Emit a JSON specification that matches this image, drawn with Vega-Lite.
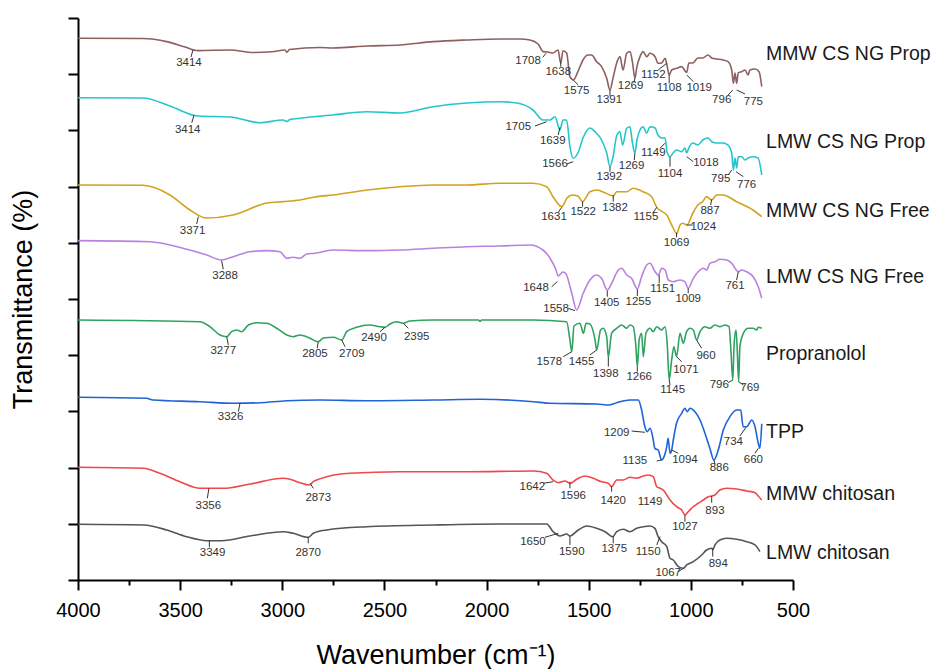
{
"$schema": "https://vega.github.io/schema/vega-lite/v6.json",
"width": 715, "height": 562,
"autosize": "none",
"padding": {"left": 78, "top": 18, "right": 139, "bottom": 89},
"background": "white",
"config": {"view": {"stroke": null}, "font": "Liberation Sans"},
"datasets": {
"spectra": [
{"s":"MMW CS NG Prop","w":4000,"t":96.4},{"s":"MMW CS NG Prop","w":3682,"t":96.35},{"s":"MMW CS NG Prop","w":3566,"t":95.8},{"s":"MMW CS NG Prop","w":3476,"t":94.84},{"s":"MMW CS NG Prop","w":3414,"t":94.2},{"s":"MMW CS NG Prop","w":3256,"t":94.3},{"s":"MMW CS NG Prop","w":3143,"t":93.86},{"s":"MMW CS NG Prop","w":3050,"t":94.0},{"s":"MMW CS NG Prop","w":2987,"t":94.3},{"s":"MMW CS NG Prop","w":2977,"t":93.9},{"s":"MMW CS NG Prop","w":2965,"t":94.4},{"s":"MMW CS NG Prop","w":2815,"t":94.75},{"s":"MMW CS NG Prop","w":2752,"t":94.66},{"s":"MMW CS NG Prop","w":2585,"t":95.02},{"s":"MMW CS NG Prop","w":2424,"t":95.2},{"s":"MMW CS NG Prop","w":2262,"t":95.79},{"s":"MMW CS NG Prop","w":2096,"t":96.09},{"s":"MMW CS NG Prop","w":1934,"t":96.27},{"s":"MMW CS NG Prop","w":1836,"t":96.27},{"s":"MMW CS NG Prop","w":1788,"t":96.09},{"s":"MMW CS NG Prop","w":1748,"t":95.38},{"s":"MMW CS NG Prop","w":1722,"t":94.01},{"s":"MMW CS NG Prop","w":1700,"t":93.95},{"s":"MMW CS NG Prop","w":1675,"t":93.77},{"s":"MMW CS NG Prop","w":1650,"t":94.31},{"s":"MMW CS NG Prop","w":1637,"t":91.94},{"s":"MMW CS NG Prop","w":1626,"t":94.18},{"s":"MMW CS NG Prop","w":1608,"t":93.77},{"s":"MMW CS NG Prop","w":1592,"t":89.56},{"s":"MMW CS NG Prop","w":1575,"t":88.97},{"s":"MMW CS NG Prop","w":1553,"t":90.45},{"s":"MMW CS NG Prop","w":1528,"t":92.53},{"s":"MMW CS NG Prop","w":1504,"t":93.42},{"s":"MMW CS NG Prop","w":1486,"t":93.42},{"s":"MMW CS NG Prop","w":1461,"t":92.23},{"s":"MMW CS NG Prop","w":1437,"t":91.34},{"s":"MMW CS NG Prop","w":1412,"t":89.27},{"s":"MMW CS NG Prop","w":1396,"t":87.19},{"s":"MMW CS NG Prop","w":1381,"t":89.33},{"s":"MMW CS NG Prop","w":1363,"t":92.0},{"s":"MMW CS NG Prop","w":1347,"t":93.12},{"s":"MMW CS NG Prop","w":1332,"t":90.75},{"s":"MMW CS NG Prop","w":1314,"t":93.72},{"s":"MMW CS NG Prop","w":1298,"t":94.01},{"s":"MMW CS NG Prop","w":1285,"t":91.94},{"s":"MMW CS NG Prop","w":1274,"t":89.27},{"s":"MMW CS NG Prop","w":1264,"t":91.34},{"s":"MMW CS NG Prop","w":1249,"t":93.12},{"s":"MMW CS NG Prop","w":1234,"t":94.01},{"s":"MMW CS NG Prop","w":1216,"t":93.12},{"s":"MMW CS NG Prop","w":1200,"t":93.72},{"s":"MMW CS NG Prop","w":1175,"t":93.12},{"s":"MMW CS NG Prop","w":1161,"t":91.94},{"s":"MMW CS NG Prop","w":1143,"t":92.0},{"s":"MMW CS NG Prop","w":1126,"t":92.83},{"s":"MMW CS NG Prop","w":1117,"t":91.64},{"s":"MMW CS NG Prop","w":1106,"t":89.86},{"s":"MMW CS NG Prop","w":1094,"t":90.75},{"s":"MMW CS NG Prop","w":1070,"t":91.05},{"s":"MMW CS NG Prop","w":1045,"t":91.34},{"s":"MMW CS NG Prop","w":1029,"t":90.6},{"s":"MMW CS NG Prop","w":1020,"t":90.3},{"s":"MMW CS NG Prop","w":1010,"t":92.0},{"s":"MMW CS NG Prop","w":990,"t":92.0},{"s":"MMW CS NG Prop","w":966,"t":92.88},{"s":"MMW CS NG Prop","w":942,"t":92.88},{"s":"MMW CS NG Prop","w":916,"t":93.42},{"s":"MMW CS NG Prop","w":898,"t":92.88},{"s":"MMW CS NG Prop","w":874,"t":92.71},{"s":"MMW CS NG Prop","w":843,"t":92.53},{"s":"MMW CS NG Prop","w":818,"t":92.23},{"s":"MMW CS NG Prop","w":800,"t":90.75},{"s":"MMW CS NG Prop","w":792,"t":88.38},{"s":"MMW CS NG Prop","w":784,"t":90.22},{"s":"MMW CS NG Prop","w":776,"t":88.38},{"s":"MMW CS NG Prop","w":768,"t":90.22},{"s":"MMW CS NG Prop","w":751,"t":90.45},{"s":"MMW CS NG Prop","w":735,"t":90.75},{"s":"MMW CS NG Prop","w":720,"t":89.86},{"s":"MMW CS NG Prop","w":711,"t":90.75},{"s":"MMW CS NG Prop","w":686,"t":90.93},{"s":"MMW CS NG Prop","w":666,"t":90.45},{"s":"MMW CS NG Prop","w":653,"t":87.78},
{"s":"LMW CS NG Prop","w":4000,"t":85.82},{"s":"LMW CS NG Prop","w":3682,"t":85.77},{"s":"LMW CS NG Prop","w":3550,"t":84.34},{"s":"LMW CS NG Prop","w":3414,"t":82.56},{"s":"LMW CS NG Prop","w":3256,"t":82.39},{"s":"LMW CS NG Prop","w":3109,"t":81.37},{"s":"LMW CS NG Prop","w":2997,"t":81.85},{"s":"LMW CS NG Prop","w":2977,"t":81.59},{"s":"LMW CS NG Prop","w":2962,"t":81.94},{"s":"LMW CS NG Prop","w":2913,"t":82.16},{"s":"LMW CS NG Prop","w":2752,"t":82.75},{"s":"LMW CS NG Prop","w":2585,"t":83.33},{"s":"LMW CS NG Prop","w":2424,"t":83.1},{"s":"LMW CS NG Prop","w":2262,"t":84.22},{"s":"LMW CS NG Prop","w":2096,"t":84.88},{"s":"LMW CS NG Prop","w":1934,"t":85.11},{"s":"LMW CS NG Prop","w":1851,"t":84.88},{"s":"LMW CS NG Prop","w":1773,"t":83.63},{"s":"LMW CS NG Prop","w":1724,"t":81.85},{"s":"LMW CS NG Prop","w":1690,"t":81.85},{"s":"LMW CS NG Prop","w":1665,"t":82.44},{"s":"LMW CS NG Prop","w":1641,"t":80.07},{"s":"LMW CS NG Prop","w":1626,"t":81.85},{"s":"LMW CS NG Prop","w":1608,"t":81.85},{"s":"LMW CS NG Prop","w":1592,"t":77.1},{"s":"LMW CS NG Prop","w":1576,"t":75.04},{"s":"LMW CS NG Prop","w":1553,"t":75.98},{"s":"LMW CS NG Prop","w":1528,"t":78.65},{"s":"LMW CS NG Prop","w":1494,"t":80.43},{"s":"LMW CS NG Prop","w":1469,"t":79.77},{"s":"LMW CS NG Prop","w":1437,"t":78.29},{"s":"LMW CS NG Prop","w":1412,"t":75.98},{"s":"LMW CS NG Prop","w":1396,"t":73.54},{"s":"LMW CS NG Prop","w":1381,"t":75.32},{"s":"LMW CS NG Prop","w":1362,"t":79.18},{"s":"LMW CS NG Prop","w":1347,"t":79.77},{"s":"LMW CS NG Prop","w":1334,"t":77.4},{"s":"LMW CS NG Prop","w":1314,"t":80.38},{"s":"LMW CS NG Prop","w":1298,"t":80.66},{"s":"LMW CS NG Prop","w":1288,"t":78.29},{"s":"LMW CS NG Prop","w":1274,"t":75.93},{"s":"LMW CS NG Prop","w":1264,"t":78.29},{"s":"LMW CS NG Prop","w":1249,"t":80.07},{"s":"LMW CS NG Prop","w":1234,"t":80.66},{"s":"LMW CS NG Prop","w":1216,"t":79.54},{"s":"LMW CS NG Prop","w":1200,"t":80.66},{"s":"LMW CS NG Prop","w":1175,"t":80.43},{"s":"LMW CS NG Prop","w":1161,"t":79.18},{"s":"LMW CS NG Prop","w":1143,"t":78.65},{"s":"LMW CS NG Prop","w":1126,"t":78.65},{"s":"LMW CS NG Prop","w":1117,"t":76.21},{"s":"LMW CS NG Prop","w":1102,"t":75.32},{"s":"LMW CS NG Prop","w":1087,"t":75.98},{"s":"LMW CS NG Prop","w":1070,"t":76.51},{"s":"LMW CS NG Prop","w":1045,"t":76.21},{"s":"LMW CS NG Prop","w":1029,"t":76.87},{"s":"LMW CS NG Prop","w":1020,"t":76.0},{"s":"LMW CS NG Prop","w":1010,"t":76.9},{"s":"LMW CS NG Prop","w":990,"t":77.76},{"s":"LMW CS NG Prop","w":966,"t":77.4},{"s":"LMW CS NG Prop","w":942,"t":78.29},{"s":"LMW CS NG Prop","w":916,"t":78.65},{"s":"LMW CS NG Prop","w":898,"t":77.99},{"s":"LMW CS NG Prop","w":874,"t":77.76},{"s":"LMW CS NG Prop","w":843,"t":77.76},{"s":"LMW CS NG Prop","w":818,"t":77.4},{"s":"LMW CS NG Prop","w":800,"t":75.98},{"s":"LMW CS NG Prop","w":792,"t":72.96},{"s":"LMW CS NG Prop","w":784,"t":75.09},{"s":"LMW CS NG Prop","w":776,"t":73.31},{"s":"LMW CS NG Prop","w":768,"t":75.32},{"s":"LMW CS NG Prop","w":751,"t":75.32},{"s":"LMW CS NG Prop","w":735,"t":74.73},{"s":"LMW CS NG Prop","w":720,"t":75.09},{"s":"LMW CS NG Prop","w":696,"t":75.32},{"s":"LMW CS NG Prop","w":671,"t":75.09},{"s":"LMW CS NG Prop","w":653,"t":72.07},
{"s":"MMW CS NG Free","w":4000,"t":70.29},{"s":"MMW CS NG Free","w":3682,"t":70.23},{"s":"MMW CS NG Free","w":3550,"t":68.51},{"s":"MMW CS NG Free","w":3452,"t":65.84},{"s":"MMW CS NG Free","w":3371,"t":64.41},{"s":"MMW CS NG Free","w":3241,"t":64.95},{"s":"MMW CS NG Free","w":3075,"t":67.08},{"s":"MMW CS NG Free","w":2997,"t":67.32},{"s":"MMW CS NG Free","w":2913,"t":67.62},{"s":"MMW CS NG Free","w":2830,"t":68.21},{"s":"MMW CS NG Free","w":2752,"t":68.51},{"s":"MMW CS NG Free","w":2585,"t":69.4},{"s":"MMW CS NG Free","w":2424,"t":69.98},{"s":"MMW CS NG Free","w":2262,"t":70.29},{"s":"MMW CS NG Free","w":2096,"t":70.29},{"s":"MMW CS NG Free","w":1934,"t":70.59},{"s":"MMW CS NG Free","w":1773,"t":70.59},{"s":"MMW CS NG Free","w":1706,"t":69.98},{"s":"MMW CS NG Free","w":1675,"t":68.21},{"s":"MMW CS NG Free","w":1632,"t":66.43},{"s":"MMW CS NG Free","w":1606,"t":67.97},{"s":"MMW CS NG Free","w":1582,"t":68.51},{"s":"MMW CS NG Free","w":1553,"t":68.33},{"s":"MMW CS NG Free","w":1530,"t":67.32},{"s":"MMW CS NG Free","w":1494,"t":69.09},{"s":"MMW CS NG Free","w":1460,"t":69.4},{"s":"MMW CS NG Free","w":1430,"t":69.04},{"s":"MMW CS NG Free","w":1396,"t":68.51},{"s":"MMW CS NG Free","w":1380,"t":68.33},{"s":"MMW CS NG Free","w":1363,"t":69.09},{"s":"MMW CS NG Free","w":1314,"t":69.09},{"s":"MMW CS NG Free","w":1283,"t":69.7},{"s":"MMW CS NG Free","w":1234,"t":69.09},{"s":"MMW CS NG Free","w":1192,"t":68.21},{"s":"MMW CS NG Free","w":1167,"t":66.3},{"s":"MMW CS NG Free","w":1143,"t":65.6},{"s":"MMW CS NG Free","w":1118,"t":64.95},{"s":"MMW CS NG Free","w":1094,"t":63.17},{"s":"MMW CS NG Free","w":1069,"t":61.69},{"s":"MMW CS NG Free","w":1053,"t":63.17},{"s":"MMW CS NG Free","w":1039,"t":63.47},{"s":"MMW CS NG Free","w":1020,"t":63.17},{"s":"MMW CS NG Free","w":990,"t":65.3},{"s":"MMW CS NG Free","w":966,"t":66.73},{"s":"MMW CS NG Free","w":942,"t":67.32},{"s":"MMW CS NG Free","w":923,"t":68.21},{"s":"MMW CS NG Free","w":898,"t":67.62},{"s":"MMW CS NG Free","w":874,"t":68.51},{"s":"MMW CS NG Free","w":843,"t":68.51},{"s":"MMW CS NG Free","w":776,"t":67.32},{"s":"MMW CS NG Free","w":696,"t":65.84},{"s":"MMW CS NG Free","w":653,"t":64.65},
{"s":"LMW CS NG Free","w":4000,"t":60.38},{"s":"LMW CS NG Free","w":3648,"t":60.2},{"s":"LMW CS NG Free","w":3486,"t":59.02},{"s":"LMW CS NG Free","w":3370,"t":57.83},{"s":"LMW CS NG Free","w":3297,"t":56.94},{"s":"LMW CS NG Free","w":3241,"t":57.53},{"s":"LMW CS NG Free","w":3158,"t":58.42},{"s":"LMW CS NG Free","w":3076,"t":58.6},{"s":"LMW CS NG Free","w":3011,"t":58.42},{"s":"LMW CS NG Free","w":2978,"t":57.24},{"s":"LMW CS NG Free","w":2948,"t":57.42},{"s":"LMW CS NG Free","w":2913,"t":57.24},{"s":"LMW CS NG Free","w":2881,"t":58.01},{"s":"LMW CS NG Free","w":2840,"t":58.13},{"s":"LMW CS NG Free","w":2752,"t":58.72},{"s":"LMW CS NG Free","w":2585,"t":58.6},{"s":"LMW CS NG Free","w":2424,"t":58.72},{"s":"LMW CS NG Free","w":2262,"t":59.02},{"s":"LMW CS NG Free","w":2096,"t":59.31},{"s":"LMW CS NG Free","w":1934,"t":59.43},{"s":"LMW CS NG Free","w":1788,"t":59.61},{"s":"LMW CS NG Free","w":1724,"t":58.72},{"s":"LMW CS NG Free","w":1690,"t":57.3},{"s":"LMW CS NG Free","w":1660,"t":55.16},{"s":"LMW CS NG Free","w":1650,"t":54.09},{"s":"LMW CS NG Free","w":1626,"t":54.81},{"s":"LMW CS NG Free","w":1611,"t":54.45},{"s":"LMW CS NG Free","w":1583,"t":51.02},{"s":"LMW CS NG Free","w":1559,"t":48.04},{"s":"LMW CS NG Free","w":1527,"t":51.02},{"s":"LMW CS NG Free","w":1494,"t":53.38},{"s":"LMW CS NG Free","w":1461,"t":54.27},{"s":"LMW CS NG Free","w":1437,"t":53.68},{"s":"LMW CS NG Free","w":1409,"t":51.6},{"s":"LMW CS NG Free","w":1388,"t":52.79},{"s":"LMW CS NG Free","w":1355,"t":55.16},{"s":"LMW CS NG Free","w":1339,"t":55.46},{"s":"LMW CS NG Free","w":1314,"t":54.27},{"s":"LMW CS NG Free","w":1290,"t":53.68},{"s":"LMW CS NG Free","w":1262,"t":51.78},{"s":"LMW CS NG Free","w":1241,"t":53.97},{"s":"LMW CS NG Free","w":1216,"t":56.05},{"s":"LMW CS NG Free","w":1200,"t":56.35},{"s":"LMW CS NG Free","w":1175,"t":54.86},{"s":"LMW CS NG Free","w":1159,"t":54.27},{"s":"LMW CS NG Free","w":1143,"t":55.46},{"s":"LMW CS NG Free","w":1126,"t":55.16},{"s":"LMW CS NG Free","w":1110,"t":53.38},{"s":"LMW CS NG Free","w":1086,"t":53.08},{"s":"LMW CS NG Free","w":1053,"t":53.38},{"s":"LMW CS NG Free","w":1029,"t":53.08},{"s":"LMW CS NG Free","w":1013,"t":51.91},{"s":"LMW CS NG Free","w":988,"t":53.68},{"s":"LMW CS NG Free","w":964,"t":54.86},{"s":"LMW CS NG Free","w":939,"t":55.46},{"s":"LMW CS NG Free","w":923,"t":55.16},{"s":"LMW CS NG Free","w":907,"t":56.35},{"s":"LMW CS NG Free","w":882,"t":56.64},{"s":"LMW CS NG Free","w":858,"t":57.07},{"s":"LMW CS NG Free","w":825,"t":56.94},{"s":"LMW CS NG Free","w":800,"t":56.35},{"s":"LMW CS NG Free","w":768,"t":54.86},{"s":"LMW CS NG Free","w":751,"t":55.16},{"s":"LMW CS NG Free","w":727,"t":54.86},{"s":"LMW CS NG Free","w":695,"t":53.97},{"s":"LMW CS NG Free","w":670,"t":52.19},{"s":"LMW CS NG Free","w":653,"t":50.13},
{"s":"Propranolol","w":4000,"t":46.26},{"s":"Propranolol","w":3403,"t":45.96},{"s":"Propranolol","w":3354,"t":45.07},{"s":"Propranolol","w":3305,"t":43.6},{"s":"Propranolol","w":3272,"t":43.29},{"s":"Propranolol","w":3248,"t":44.18},{"s":"Propranolol","w":3223,"t":44.49},{"s":"Propranolol","w":3199,"t":44.18},{"s":"Propranolol","w":3166,"t":45.37},{"s":"Propranolol","w":3125,"t":45.78},{"s":"Propranolol","w":3076,"t":45.68},{"s":"Propranolol","w":3027,"t":44.79},{"s":"Propranolol","w":2978,"t":43.6},{"s":"Propranolol","w":2946,"t":43.29},{"s":"Propranolol","w":2913,"t":43.6},{"s":"Propranolol","w":2881,"t":43.29},{"s":"Propranolol","w":2864,"t":43.01},{"s":"Propranolol","w":2824,"t":42.4},{"s":"Propranolol","w":2799,"t":43.06},{"s":"Propranolol","w":2750,"t":43.19},{"s":"Propranolol","w":2709,"t":42.71},{"s":"Propranolol","w":2685,"t":44.18},{"s":"Propranolol","w":2636,"t":44.97},{"s":"Propranolol","w":2571,"t":45.37},{"s":"Propranolol","w":2522,"t":45.07},{"s":"Propranolol","w":2497,"t":44.97},{"s":"Propranolol","w":2473,"t":45.55},{"s":"Propranolol","w":2440,"t":45.96},{"s":"Propranolol","w":2408,"t":45.68},{"s":"Propranolol","w":2375,"t":46.09},{"s":"Propranolol","w":2262,"t":46.26},{"s":"Propranolol","w":2040,"t":46.26},{"s":"Propranolol","w":2032,"t":46.0},{"s":"Propranolol","w":2024,"t":46.26},{"s":"Propranolol","w":1934,"t":46.26},{"s":"Propranolol","w":1773,"t":46.26},{"s":"Propranolol","w":1608,"t":45.96},{"s":"Propranolol","w":1592,"t":42.71},{"s":"Propranolol","w":1583,"t":40.62},{"s":"Propranolol","w":1572,"t":45.2},{"s":"Propranolol","w":1543,"t":45.68},{"s":"Propranolol","w":1526,"t":43.9},{"s":"Propranolol","w":1513,"t":45.68},{"s":"Propranolol","w":1494,"t":45.55},{"s":"Propranolol","w":1469,"t":42.71},{"s":"Propranolol","w":1461,"t":40.93},{"s":"Propranolol","w":1442,"t":44.49},{"s":"Propranolol","w":1429,"t":44.79},{"s":"Propranolol","w":1412,"t":43.29},{"s":"Propranolol","w":1404,"t":39.63},{"s":"Propranolol","w":1388,"t":43.9},{"s":"Propranolol","w":1363,"t":44.79},{"s":"Propranolol","w":1339,"t":45.37},{"s":"Propranolol","w":1314,"t":44.79},{"s":"Propranolol","w":1298,"t":45.37},{"s":"Propranolol","w":1282,"t":45.07},{"s":"Propranolol","w":1269,"t":41.51},{"s":"Propranolol","w":1262,"t":37.96},{"s":"Propranolol","w":1253,"t":42.71},{"s":"Propranolol","w":1241,"t":43.9},{"s":"Propranolol","w":1233,"t":39.73},{"s":"Propranolol","w":1220,"t":43.9},{"s":"Propranolol","w":1200,"t":44.79},{"s":"Propranolol","w":1184,"t":44.18},{"s":"Propranolol","w":1167,"t":45.07},{"s":"Propranolol","w":1143,"t":44.49},{"s":"Propranolol","w":1126,"t":45.07},{"s":"Propranolol","w":1116,"t":42.12},{"s":"Propranolol","w":1106,"t":35.59},{"s":"Propranolol","w":1094,"t":39.15},{"s":"Propranolol","w":1083,"t":41.51},{"s":"Propranolol","w":1070,"t":39.73},{"s":"Propranolol","w":1053,"t":43.9},{"s":"Propranolol","w":1037,"t":42.12},{"s":"Propranolol","w":1021,"t":44.18},{"s":"Propranolol","w":1004,"t":44.79},{"s":"Propranolol","w":988,"t":44.49},{"s":"Propranolol","w":972,"t":42.71},{"s":"Propranolol","w":955,"t":44.18},{"s":"Propranolol","w":931,"t":45.07},{"s":"Propranolol","w":907,"t":44.79},{"s":"Propranolol","w":882,"t":45.37},{"s":"Propranolol","w":858,"t":45.07},{"s":"Propranolol","w":833,"t":45.37},{"s":"Propranolol","w":813,"t":45.07},{"s":"Propranolol","w":804,"t":40.93},{"s":"Propranolol","w":795,"t":35.59},{"s":"Propranolol","w":788,"t":42.12},{"s":"Propranolol","w":779,"t":44.49},{"s":"Propranolol","w":773,"t":40.93},{"s":"Propranolol","w":766,"t":35.29},{"s":"Propranolol","w":760,"t":41.51},{"s":"Propranolol","w":743,"t":43.9},{"s":"Propranolol","w":719,"t":44.79},{"s":"Propranolol","w":695,"t":44.79},{"s":"Propranolol","w":678,"t":44.49},{"s":"Propranolol","w":670,"t":44.97},{"s":"Propranolol","w":653,"t":44.79},
{"s":"TPP","w":4000,"t":32.51},{"s":"TPP","w":3664,"t":32.33},{"s":"TPP","w":3633,"t":32.03},{"s":"TPP","w":3403,"t":31.73},{"s":"TPP","w":3241,"t":31.44},{"s":"TPP","w":3109,"t":31.55},{"s":"TPP","w":2978,"t":31.9},{"s":"TPP","w":2815,"t":32.03},{"s":"TPP","w":2587,"t":31.9},{"s":"TPP","w":2261,"t":32.03},{"s":"TPP","w":2032,"t":32.15},{"s":"TPP","w":1771,"t":31.73},{"s":"TPP","w":1690,"t":31.44},{"s":"TPP","w":1461,"t":31.32},{"s":"TPP","w":1404,"t":31.14},{"s":"TPP","w":1363,"t":31.55},{"s":"TPP","w":1298,"t":32.03},{"s":"TPP","w":1257,"t":32.03},{"s":"TPP","w":1241,"t":30.25},{"s":"TPP","w":1225,"t":27.28},{"s":"TPP","w":1213,"t":26.39},{"s":"TPP","w":1200,"t":26.99},{"s":"TPP","w":1187,"t":25.5},{"s":"TPP","w":1176,"t":23.43},{"s":"TPP","w":1160,"t":23.13},{"s":"TPP","w":1143,"t":21.35},{"s":"TPP","w":1135,"t":21.66},{"s":"TPP","w":1118,"t":23.72},{"s":"TPP","w":1111,"t":25.21},{"s":"TPP","w":1102,"t":22.55},{"s":"TPP","w":1094,"t":23.1},{"s":"TPP","w":1086,"t":24.91},{"s":"TPP","w":1070,"t":27.88},{"s":"TPP","w":1045,"t":29.66},{"s":"TPP","w":1029,"t":30.55},{"s":"TPP","w":1018,"t":29.95},{"s":"TPP","w":1004,"t":30.55},{"s":"TPP","w":980,"t":29.95},{"s":"TPP","w":955,"t":28.47},{"s":"TPP","w":931,"t":26.1},{"s":"TPP","w":907,"t":23.43},{"s":"TPP","w":887,"t":21.35},{"s":"TPP","w":866,"t":23.13},{"s":"TPP","w":841,"t":26.69},{"s":"TPP","w":809,"t":29.06},{"s":"TPP","w":776,"t":30.25},{"s":"TPP","w":756,"t":30.25},{"s":"TPP","w":744,"t":27.28},{"s":"TPP","w":727,"t":27.28},{"s":"TPP","w":702,"t":28.47},{"s":"TPP","w":686,"t":27.28},{"s":"TPP","w":670,"t":24.32},{"s":"TPP","w":662,"t":23.43},{"s":"TPP","w":653,"t":27.8},
{"s":"MMW chitosan","w":4000,"t":20.05},{"s":"MMW chitosan","w":3680,"t":19.88},{"s":"MMW chitosan","w":3599,"t":18.99},{"s":"MMW chitosan","w":3501,"t":17.49},{"s":"MMW chitosan","w":3403,"t":16.32},{"s":"MMW chitosan","w":3354,"t":16.32},{"s":"MMW chitosan","w":3289,"t":16.32},{"s":"MMW chitosan","w":3158,"t":17.08},{"s":"MMW chitosan","w":2995,"t":18.1},{"s":"MMW chitosan","w":2962,"t":17.92},{"s":"MMW chitosan","w":2913,"t":17.31},{"s":"MMW chitosan","w":2868,"t":16.9},{"s":"MMW chitosan","w":2848,"t":17.5},{"s":"MMW chitosan","w":2832,"t":17.79},{"s":"MMW chitosan","w":2783,"t":18.38},{"s":"MMW chitosan","w":2669,"t":18.99},{"s":"MMW chitosan","w":2424,"t":19.27},{"s":"MMW chitosan","w":2097,"t":19.27},{"s":"MMW chitosan","w":1771,"t":19.4},{"s":"MMW chitosan","w":1706,"t":18.99},{"s":"MMW chitosan","w":1674,"t":17.79},{"s":"MMW chitosan","w":1649,"t":17.31},{"s":"MMW chitosan","w":1616,"t":17.62},{"s":"MMW chitosan","w":1592,"t":17.17},{"s":"MMW chitosan","w":1559,"t":17.92},{"s":"MMW chitosan","w":1518,"t":18.51},{"s":"MMW chitosan","w":1478,"t":18.1},{"s":"MMW chitosan","w":1437,"t":17.49},{"s":"MMW chitosan","w":1404,"t":17.21},{"s":"MMW chitosan","w":1388,"t":16.6},{"s":"MMW chitosan","w":1363,"t":17.79},{"s":"MMW chitosan","w":1331,"t":17.79},{"s":"MMW chitosan","w":1298,"t":18.27},{"s":"MMW chitosan","w":1265,"t":18.1},{"s":"MMW chitosan","w":1233,"t":18.51},{"s":"MMW chitosan","w":1208,"t":18.68},{"s":"MMW chitosan","w":1184,"t":18.38},{"s":"MMW chitosan","w":1167,"t":16.6},{"s":"MMW chitosan","w":1151,"t":16.32},{"s":"MMW chitosan","w":1135,"t":16.01},{"s":"MMW chitosan","w":1102,"t":14.24},{"s":"MMW chitosan","w":1070,"t":13.04},{"s":"MMW chitosan","w":1045,"t":12.46},{"s":"MMW chitosan","w":1029,"t":11.57},{"s":"MMW chitosan","w":1013,"t":12.15},{"s":"MMW chitosan","w":988,"t":13.04},{"s":"MMW chitosan","w":964,"t":13.65},{"s":"MMW chitosan","w":939,"t":14.24},{"s":"MMW chitosan","w":915,"t":14.82},{"s":"MMW chitosan","w":898,"t":14.95},{"s":"MMW chitosan","w":882,"t":15.12},{"s":"MMW chitosan","w":858,"t":16.01},{"s":"MMW chitosan","w":825,"t":16.32},{"s":"MMW chitosan","w":776,"t":16.19},{"s":"MMW chitosan","w":727,"t":15.84},{"s":"MMW chitosan","w":686,"t":15.53},{"s":"MMW chitosan","w":670,"t":14.95},{"s":"MMW chitosan","w":653,"t":14.24},
{"s":"LMW chitosan","w":4000,"t":9.91},{"s":"LMW chitosan","w":3680,"t":9.79},{"s":"LMW chitosan","w":3566,"t":8.9},{"s":"LMW chitosan","w":3468,"t":7.7},{"s":"LMW chitosan","w":3370,"t":6.99},{"s":"LMW chitosan","w":3297,"t":6.99},{"s":"LMW chitosan","w":3158,"t":7.83},{"s":"LMW chitosan","w":2995,"t":8.59},{"s":"LMW chitosan","w":2946,"t":8.31},{"s":"LMW chitosan","w":2873,"t":7.6},{"s":"LMW chitosan","w":2848,"t":8.31},{"s":"LMW chitosan","w":2783,"t":8.9},{"s":"LMW chitosan","w":2587,"t":9.48},{"s":"LMW chitosan","w":2261,"t":9.79},{"s":"LMW chitosan","w":1934,"t":9.96},{"s":"LMW chitosan","w":1706,"t":9.96},{"s":"LMW chitosan","w":1674,"t":8.59},{"s":"LMW chitosan","w":1641,"t":7.83},{"s":"LMW chitosan","w":1608,"t":8.19},{"s":"LMW chitosan","w":1592,"t":7.83},{"s":"LMW chitosan","w":1551,"t":8.9},{"s":"LMW chitosan","w":1510,"t":9.61},{"s":"LMW chitosan","w":1461,"t":9.2},{"s":"LMW chitosan","w":1420,"t":8.59},{"s":"LMW chitosan","w":1383,"t":7.7},{"s":"LMW chitosan","w":1363,"t":8.59},{"s":"LMW chitosan","w":1331,"t":9.02},{"s":"LMW chitosan","w":1298,"t":8.59},{"s":"LMW chitosan","w":1265,"t":9.2},{"s":"LMW chitosan","w":1233,"t":9.48},{"s":"LMW chitosan","w":1200,"t":9.61},{"s":"LMW chitosan","w":1176,"t":9.2},{"s":"LMW chitosan","w":1160,"t":7.7},{"s":"LMW chitosan","w":1143,"t":6.82},{"s":"LMW chitosan","w":1118,"t":5.93},{"s":"LMW chitosan","w":1102,"t":3.86},{"s":"LMW chitosan","w":1086,"t":3.56},{"s":"LMW chitosan","w":1061,"t":2.37},{"s":"LMW chitosan","w":1036,"t":2.08},{"s":"LMW chitosan","w":1021,"t":2.67},{"s":"LMW chitosan","w":988,"t":3.26},{"s":"LMW chitosan","w":947,"t":4.45},{"s":"LMW chitosan","w":923,"t":5.34},{"s":"LMW chitosan","w":898,"t":5.64},{"s":"LMW chitosan","w":892,"t":5.43},{"s":"LMW chitosan","w":882,"t":6.23},{"s":"LMW chitosan","w":858,"t":7.12},{"s":"LMW chitosan","w":825,"t":7.42},{"s":"LMW chitosan","w":776,"t":7.24},{"s":"LMW chitosan","w":727,"t":6.82},{"s":"LMW chitosan","w":686,"t":6.23},{"s":"LMW chitosan","w":662,"t":5.04}
],
"leaders": [
{"x1":3437,"y1":94.31,"x2":3447,"y2":93.06},{"x1":1725,"y1":93.01,"x2":1709,"y2":93.72},{"x1":1637,"y1":92.23,"x2":1637,"y2":91.34},{"x1":1576,"y1":88.97,"x2":1551,"y2":88.08},{"x1":1396,"y1":87.19,"x2":1396,"y2":86.12},{"x1":1274,"y1":89.27,"x2":1279,"y2":88.49},{"x1":1160,"y1":90.75,"x2":1118,"y2":91.94},{"x1":1106,"y1":89.86,"x2":1106,"y2":88.38},{"x1":1020,"y1":89.86,"x2":988,"y2":88.67},{"x1":795,"y1":87.19,"x2":817,"y2":86.3},{"x1":776,"y1":87.19,"x2":735,"y2":86.48},
{"x1":3432,"y1":82.74,"x2":3443,"y2":81.37},{"x1":1763,"y1":80.78,"x2":1706,"y2":81.55},{"x1":1641,"y1":80.55,"x2":1649,"y2":79.18},{"x1":1608,"y1":74.02,"x2":1576,"y2":74.43},{"x1":1396,"y1":73.54,"x2":1396,"y2":72.65},{"x1":1274,"y1":75.93,"x2":1277,"y2":74.73},{"x1":1151,"y1":76.82,"x2":1127,"y2":77.71},{"x1":1102,"y1":75.32,"x2":1102,"y2":73.54},{"x1":1020,"y1":75.32,"x2":988,"y2":74.43},{"x1":800,"y1":72.96,"x2":817,"y2":72.07},{"x1":779,"y1":72.65,"x2":743,"y2":71.76},
{"x1":3411,"y1":64.65,"x2":3419,"y2":63.35},{"x1":1632,"y1":66.32,"x2":1649,"y2":65.43},{"x1":1530,"y1":67.32,"x2":1530,"y2":66.43},{"x1":1380,"y1":68.51,"x2":1380,"y2":67.32},{"x1":1167,"y1":66.32,"x2":1187,"y2":65.25},{"x1":1070,"y1":61.8,"x2":1070,"y2":60.98},{"x1":1020,"y1":63.17,"x2":991,"y2":63.17},{"x1":898,"y1":67.74,"x2":903,"y2":66.73},
{"x1":3297,"y1":56.82,"x2":3289,"y2":55.29},{"x1":1681,"y1":52.19,"x2":1654,"y2":53.08},{"x1":1600,"y1":48.35,"x2":1567,"y2":47.92},{"x1":1409,"y1":51.48,"x2":1409,"y2":50.41},{"x1":1262,"y1":51.73,"x2":1262,"y2":50.53},{"x1":1155,"y1":54.27,"x2":1155,"y2":52.79},{"x1":1013,"y1":51.91,"x2":1013,"y2":51.02},{"x1":768,"y1":54.86,"x2":776,"y2":53.38},
{"x1":3272,"y1":43.29,"x2":3264,"y2":41.82},{"x1":2824,"y1":42.4,"x2":2829,"y2":41.23},{"x1":2709,"y1":42.71,"x2":2693,"y2":41.51},{"x1":2497,"y1":44.97,"x2":2522,"y2":44.18},{"x1":2408,"y1":45.68,"x2":2383,"y2":44.79},{"x1":1583,"y1":40.62,"x2":1625,"y2":39.73},{"x1":1461,"y1":40.93,"x2":1494,"y2":40.04},{"x1":1404,"y1":39.63,"x2":1404,"y2":37.96},{"x1":1262,"y1":37.96,"x2":1262,"y2":37.07},{"x1":1106,"y1":35.59,"x2":1102,"y2":34.7},{"x1":1070,"y1":39.73,"x2":1045,"y2":38.84},{"x1":972,"y1":42.71,"x2":947,"y2":41.23},{"x1":795,"y1":35.59,"x2":817,"y2":35.11},{"x1":766,"y1":35.29,"x2":743,"y2":34.7},
{"x1":3207,"y1":31.44,"x2":3215,"y2":29.95},{"x1":1290,"y1":26.51,"x2":1225,"y2":26.28},{"x1":1167,"y1":21.17,"x2":1143,"y2":21.35},{"x1":1094,"y1":23.13,"x2":1062,"y2":22.55},{"x1":887,"y1":21.35,"x2":882,"y2":20.64},{"x1":730,"y1":27.17,"x2":760,"y2":25.62},{"x1":670,"y1":23.43,"x2":686,"y2":22.55},
{"x1":3359,"y1":16.32,"x2":3367,"y2":14.54},{"x1":2864,"y1":17.21,"x2":2848,"y2":16.32},{"x1":1722,"y1":17.21,"x2":1674,"y2":17.49},{"x1":1592,"y1":17.49,"x2":1592,"y2":16.32},{"x1":1388,"y1":16.73,"x2":1388,"y2":15.71},{"x1":1029,"y1":11.57,"x2":1029,"y2":10.37},{"x1":898,"y1":14.95,"x2":898,"y2":13.75},
{"x1":3357,"y1":6.99,"x2":3357,"y2":5.82},{"x1":2873,"y1":7.6,"x2":2873,"y2":6.53},{"x1":1714,"y1":7.6,"x2":1649,"y2":8.31},{"x1":1592,"y1":7.83,"x2":1592,"y2":6.23},{"x1":1380,"y1":7.83,"x2":1380,"y2":6.53},{"x1":1151,"y1":7.7,"x2":1167,"y2":6.23},{"x1":1037,"y1":2.08,"x2":1062,"y2":1.48},{"x1":893,"y1":5.64,"x2":893,"y2":4.15}
],
"peaks": [
{"lab":"3414","tx":3457,"ty":92.0},{"lab":"1708","tx":1797,"ty":92.35},{"lab":"1638","tx":1649,"ty":90.45},{"lab":"1575","tx":1559,"ty":87.01},{"lab":"1391","tx":1399,"ty":85.41},{"lab":"1269","tx":1295,"ty":87.9},{"lab":"1152","tx":1184,"ty":89.86},{"lab":"1108","tx":1106,"ty":87.49},{"lab":"1019","tx":959,"ty":87.6},{"lab":"796","tx":849,"ty":85.41},{"lab":"775","tx":694,"ty":85.11},
{"lab":"3414","tx":3463,"ty":80.07},{"lab":"1705","tx":1845,"ty":80.55},{"lab":"1639","tx":1676,"ty":78.17},{"lab":"1566","tx":1665,"ty":74.02},{"lab":"1392","tx":1399,"ty":71.76},{"lab":"1269","tx":1290,"ty":73.67},{"lab":"1149","tx":1184,"ty":75.93},{"lab":"1104","tx":1102,"ty":72.24},{"lab":"1018","tx":926,"ty":74.15},{"lab":"795","tx":854,"ty":71.3},{"lab":"776","tx":727,"ty":70.29},
{"lab":"3371","tx":3439,"ty":62.15},{"lab":"1631","tx":1670,"ty":64.65},{"lab":"1522","tx":1527,"ty":65.54},{"lab":"1382","tx":1371,"ty":66.14},{"lab":"1155","tx":1220,"ty":64.54},{"lab":"1069","tx":1070,"ty":60.02},{"lab":"1024","tx":939,"ty":62.87},{"lab":"887","tx":906,"ty":65.71},
{"lab":"3288","tx":3280,"ty":54.09},{"lab":"1648","tx":1758,"ty":52.01},{"lab":"1558","tx":1660,"ty":48.17},{"lab":"1405","tx":1412,"ty":49.34},{"lab":"1255","tx":1257,"ty":49.52},{"lab":"1151","tx":1138,"ty":51.73},{"lab":"1009","tx":1013,"ty":50.0},{"lab":"761","tx":784,"ty":52.37},
{"lab":"3277","tx":3289,"ty":40.75},{"lab":"2805","tx":2840,"ty":40.16},{"lab":"2709","tx":2660,"ty":40.16},{"lab":"2490","tx":2551,"ty":43.01},{"lab":"2395","tx":2342,"ty":43.29},{"lab":"1578","tx":1693,"ty":38.84},{"lab":"1455","tx":1535,"ty":38.84},{"lab":"1398","tx":1416,"ty":36.66},{"lab":"1266","tx":1253,"ty":36.07},{"lab":"1145","tx":1089,"ty":33.81},{"lab":"1071","tx":1024,"ty":37.37},{"lab":"960","tx":926,"ty":39.86},{"lab":"796","tx":861,"ty":34.7},{"lab":"769","tx":711,"ty":34.11},
{"lab":"3326","tx":3253,"ty":29.06},{"lab":"1209","tx":1363,"ty":26.21},{"lab":"1135","tx":1274,"ty":21.17},{"lab":"1094","tx":1029,"ty":21.35},{"lab":"886","tx":861,"ty":19.88},{"lab":"734","tx":792,"ty":24.61},{"lab":"660","tx":694,"ty":21.35},
{"lab":"3356","tx":3362,"ty":13.17},{"lab":"2873","tx":2824,"ty":14.54},{"lab":"1642","tx":1776,"ty":16.5},{"lab":"1596","tx":1576,"ty":14.95},{"lab":"1420","tx":1380,"ty":14.11},{"lab":"1149","tx":1200,"ty":13.93},{"lab":"1027","tx":1029,"ty":9.38},{"lab":"893","tx":882,"ty":12.33},
{"lab":"3349","tx":3341,"ty":4.86},{"lab":"2870","tx":2873,"ty":4.86},{"lab":"1650","tx":1773,"ty":6.82},{"lab":"1590","tx":1583,"ty":5.04},{"lab":"1375","tx":1375,"ty":5.46},{"lab":"1150","tx":1209,"ty":5.04},{"lab":"1067","tx":1111,"ty":1.19},{"lab":"894","tx":866,"ty":2.85}
],
"names": [
{"name":"MMW CS NG Prop","w":632,"t":93.6},{"name":"LMW CS NG Prop","w":632,"t":77.94},{"name":"MMW CS NG Free","w":632,"t":65.66},{"name":"LMW CS NG Free","w":632,"t":53.83},{"name":"Propranolol","w":632,"t":40.21},{"name":"TPP","w":632,"t":26.25},{"name":"MMW chitosan","w":632,"t":15.3},{"name":"LMW chitosan","w":632,"t":4.89}
]
},
"layer": [
{"data": {"name": "spectra"},
 "mark": {"type": "line", "strokeWidth": 1.6, "interpolate": "monotone"},
 "encoding": {
  "x": {"field": "w", "type": "quantitative",
   "scale": {"domain": [500, 4000], "reverse": true, "nice": false, "zero": false},
   "axis": {"title": "Wavenumber (cm⁻¹)", "values": [4000,3750,3500,3250,3000,2750,2500,2250,2000,1750,1500,1250,1000,750,500],
    "format": "d", "labelExpr": "datum.value % 500 === 0 ? datum.label : ''", "labelFlush": false, "labelOverlap": false,
    "tickSize": {"condition": {"test": "datum.value % 500 !== 0", "value": 5}, "value": 10},
    "grid": false, "domainColor": "#000", "domainWidth": 2, "tickColor": "#000", "tickWidth": 2,
    "labelFontSize": 20, "labelColor": "#000", "labelPadding": 10, "labelFont": "Liberation Sans",
    "titleFontSize": 27, "titleFontWeight": "normal", "titleColor": "#000", "titleFont": "Liberation Sans", "titlePadding": 22}},
  "y": {"field": "t", "type": "quantitative",
   "scale": {"domain": [0, 100], "nice": false, "zero": false},
   "axis": {"title": "Transmittance (%)", "values": [0,5,10,15,20,25,30,35,40,45,50,55,60,65,70,75,80,85,90,95,100],
    "labels": false, "grid": false, "domainColor": "#000", "domainWidth": 2, "tickColor": "#000", "tickWidth": 2, "tickSize": 10,
    "titleFontSize": 27, "titleFontWeight": "normal", "titleColor": "#000", "titleFont": "Liberation Sans", "titlePadding": 30}},
  "color": {"field": "s", "type": "nominal",
   "scale": {"domain": ["MMW CS NG Prop","LMW CS NG Prop","MMW CS NG Free","LMW CS NG Free","Propranolol","TPP","MMW chitosan","LMW chitosan"],
    "range": ["#8e5f5f","#25c6cb","#d2a31c","#b982e0","#2fa262","#1f63d8","#f0474b","#555555"]},
   "legend": null}
 }},
{"data": {"name": "leaders"},
 "mark": {"type": "rule", "color": "#333333", "strokeWidth": 1},
 "encoding": {"x": {"field": "x1", "type": "quantitative"}, "y": {"field": "y1", "type": "quantitative"}, "x2": {"field": "x2"}, "y2": {"field": "y2"}}},
{"data": {"name": "peaks"},
 "mark": {"type": "text", "fontSize": 11.5, "color": "#333333", "align": "center", "baseline": "middle", "font": "Liberation Sans"},
 "encoding": {"x": {"field": "tx", "type": "quantitative"}, "y": {"field": "ty", "type": "quantitative"}, "text": {"field": "lab"}}},
{"data": {"name": "names"},
 "mark": {"type": "text", "fontSize": 19.5, "color": "#1a1a1a", "align": "left", "baseline": "middle", "font": "Liberation Sans"},
 "encoding": {"x": {"field": "w", "type": "quantitative"}, "y": {"field": "t", "type": "quantitative"}, "text": {"field": "name"}}}
]
}
